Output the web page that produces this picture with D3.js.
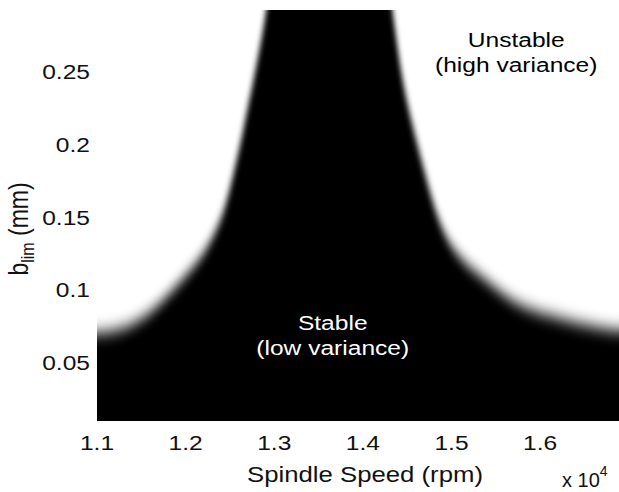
<!DOCTYPE html>
<html>
<head>
<meta charset="utf-8">
<script src="https://cdn.jsdelivr.net/npm/d3@7"></script>
<style>
  html, body { margin: 0; padding: 0; background: #fff; }
  svg { display: block; font-family: "Liberation Sans", Arial, Helvetica, sans-serif; }
</style>
</head>
<body>
<svg id="chart" width="619" height="492"></svg>
<script>
// Axis ticks (spindle speed in units of 10^4 rpm, depth of cut in mm)
const speedTicks = [1.1, 1.2, 1.3, 1.4, 1.5, 1.6];
const depthTicks = [0.05, 0.1, 0.15, 0.2, 0.25];

// Stability limit b_lim along spindle speed (x 10^4 rpm).
// Where the lobe runs off the top of the axes the limit is recorded as 0.33.
const boundarySpeed = [1.100, 1.120, 1.137, 1.154, 1.171, 1.191, 1.210, 1.223, 1.234, 1.243,
                       1.250, 1.256, 1.263, 1.269, 1.276, 1.283, 1.289, 1.291, 1.300,
                       1.427, 1.433, 1.437, 1.442, 1.449, 1.458, 1.468, 1.478, 1.487, 1.497,
                       1.510, 1.524, 1.540, 1.566, 1.591, 1.622, 1.651, 1.689];
const boundaryDepth = [0.0693, 0.0713, 0.0748, 0.0809, 0.0899, 0.1029, 0.1160, 0.1270, 0.1394, 0.1531,
                       0.1683, 0.1848, 0.2027, 0.2219, 0.2418, 0.2632, 0.2838, 0.2920, 0.330,
                       0.330, 0.2920, 0.2762, 0.2528, 0.2301, 0.2075, 0.1841, 0.1614, 0.1449, 0.1318,
                       0.1215, 0.1133, 0.1057, 0.0925, 0.0852, 0.0800, 0.0754, 0.0706];

const regionLabels = [
  { lines: ["Unstable", "(high variance)"], speed: 1.573, depth: 0.2666, color: "#000" },
  { lines: ["Stable", "(low variance)"], speed: 1.366, depth: 0.072, color: "#fff" }
];

const plot = { left: 97, right: 619, top: 10, bottom: 421 };
const stretch = 1.17;     // horizontal glyph stretch of the figure text
const fontSize = 21;

const svg = d3.select("#chart");

const x = d3.scaleLinear().domain([1.1, 1.689]).range([plot.left, plot.right]);
const y = d3.scaleLinear().domain([0.0094, 0.292]).range([plot.bottom, plot.top]);

const defs = svg.append("defs");
defs.append("clipPath").attr("id", "plotClip")
  .append("rect")
  .attr("x", plot.left).attr("y", plot.top)
  .attr("width", plot.right - plot.left).attr("height", plot.bottom - plot.top);

defs.append("filter").attr("id", "soft")
  .attr("filterUnits", "userSpaceOnUse")
  .attr("x", 0).attr("y", -100).attr("width", 800).attr("height", 700)
  .append("feGaussianBlur").attr("stdDeviation", "2.5 8");

// Stable region: everything below the stability limit, softened at its edge
const pts = boundarySpeed.map((s, i) => [s, boundaryDepth[i]]);
const padded = [[x.domain()[0] - 0.06, pts[0][1]], ...pts, [x.domain()[1] + 0.06, pts[pts.length - 1][1]]];

const area = d3.area()
  .x(d => x(d[0]))
  .y0(plot.bottom + 60)
  .y1(d => y(d[1]))
  .curve(d3.curveBasis);

const field = svg.append("g").attr("clip-path", "url(#plotClip)");
field.append("rect")
  .attr("x", plot.left).attr("y", plot.top)
  .attr("width", plot.right - plot.left).attr("height", plot.bottom - plot.top)
  .attr("fill", "#fff");
field.append("path")
  .datum(padded)
  .attr("d", area)
  .attr("fill", "#000")
  .attr("filter", "url(#soft)");

// Text helper: horizontally stretched glyphs
function stretchedText(g, px, py, str, anchor, size) {
  return g.append("text")
    .attr("transform", `translate(${px},${py}) scale(${stretch},1)`)
    .attr("text-anchor", anchor)
    .attr("font-size", size || fontSize)
    .attr("fill", "#111")
    .text(str);
}

// Tick labels
const xTicks = svg.append("g");
speedTicks.forEach(t => stretchedText(xTicks, x(t), 450, d3.format(".1f")(t), "middle"));

const yTicks = svg.append("g");
depthTicks.forEach(t => stretchedText(yTicks, 90, y(t) + 8, String(t), "end"));

// Axis titles
stretchedText(svg, 365, 482, "Spindle Speed (rpm)", "middle", 22);

const yl = svg.append("text")
  .attr("transform", `translate(28,229) scale(${stretch},1) rotate(-90)`)
  .attr("text-anchor", "middle")
  .attr("font-size", 23)
  .attr("fill", "#111");
yl.append("tspan").text("b");
yl.append("tspan").attr("font-size", 16).attr("dy", 5).text("lim");
yl.append("tspan").attr("dy", -5).text(" (mm)");

// Exponent of the speed axis
const mult = svg.append("text")
  .attr("transform", `translate(562,487)`)
  .attr("font-size", 20)
  .attr("fill", "#111");
mult.append("tspan").text("x 10");
mult.append("tspan").attr("font-size", 14).attr("dy", -11).text("4");

// Region annotations
regionLabels.forEach(r => {
  const g = svg.append("g");
  r.lines.forEach((line, i) => {
    stretchedText(g, x(r.speed), y(r.depth) + i * 25, line, "middle").attr("fill", r.color);
  });
});
</script>
</body>
</html>
